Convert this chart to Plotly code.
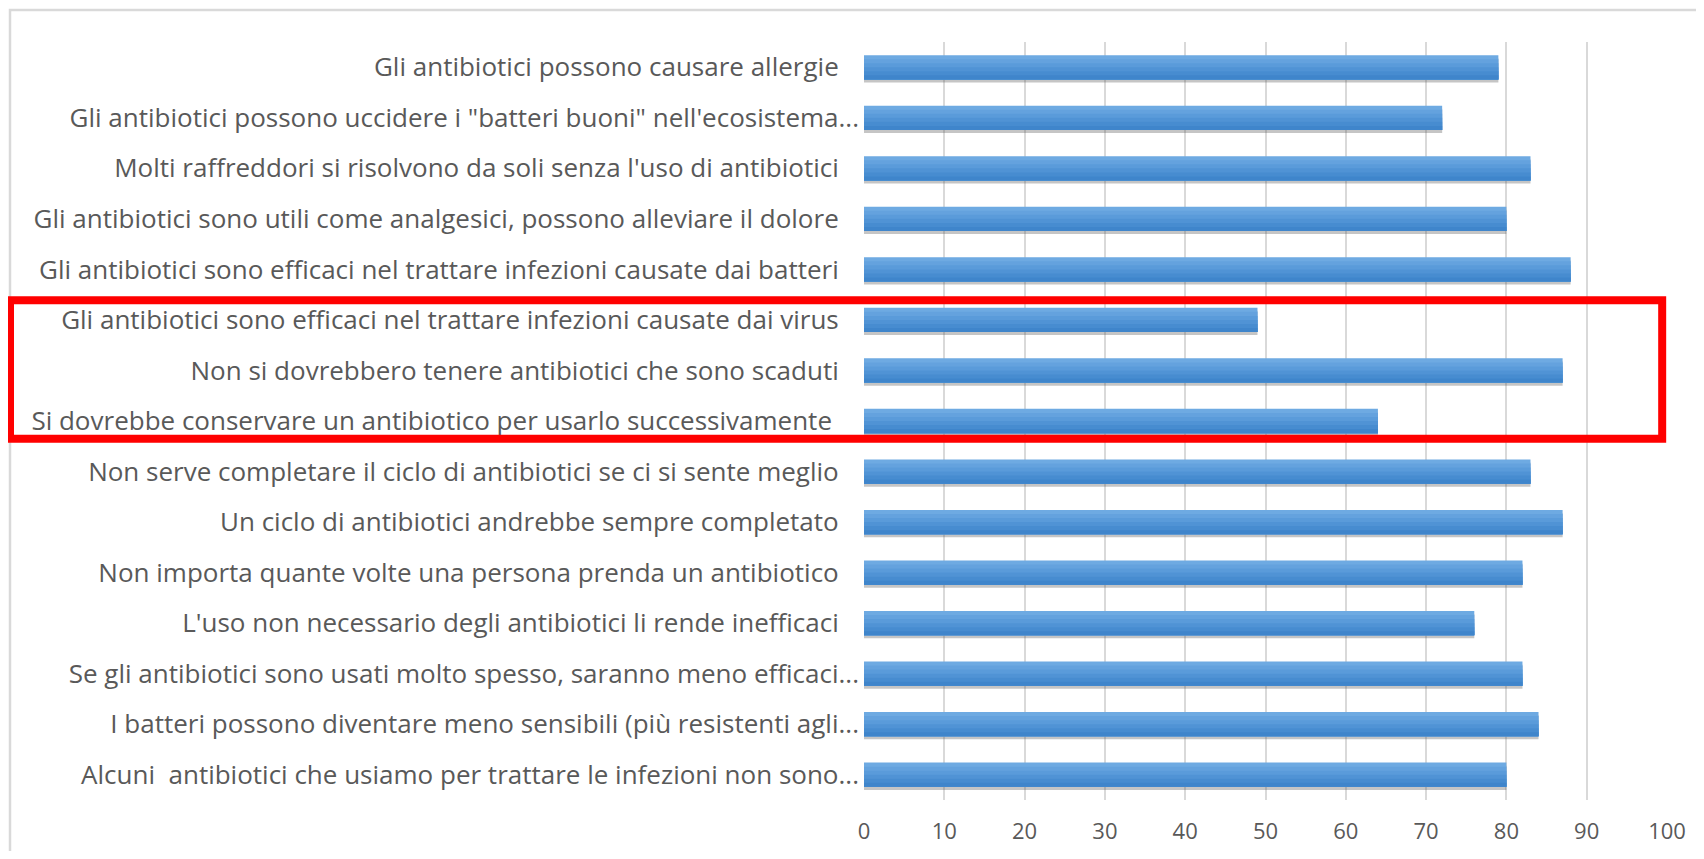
import plotly.graph_objects as go

# Categories listed top to bottom as in the chart
categories = [
    "Gli antibiotici possono causare allergie",
    "Gli antibiotici possono uccidere i \"batteri buoni\" nell'ecosistema...",
    "Molti raffreddori si risolvono da soli senza l'uso di antibiotici",
    "Gli antibiotici sono utili come analgesici, possono alleviare il dolore",
    "Gli antibiotici sono efficaci nel trattare infezioni causate dai batteri",
    "Gli antibiotici sono efficaci nel trattare infezioni causate dai virus",
    "Non si dovrebbero tenere antibiotici che sono scaduti",
    "Si dovrebbe conservare un antibiotico per usarlo successivamente ",
    "Non serve completare il ciclo di antibiotici se ci si sente meglio",
    "Un ciclo di antibiotici andrebbe sempre completato",
    "Non importa quante volte una persona prenda un antibiotico",
    "L'uso non necessario degli antibiotici li rende inefficaci",
    "Se gli antibiotici sono usati molto spesso, saranno meno efficaci...",
    "I batteri possono diventare meno sensibili (più resistenti agli...",
    "Alcuni  antibiotici che usiamo per trattare le infezioni non sono...",
]
values = [79, 72, 83, 80, 88, 49, 87, 64, 83, 87, 82, 76, 82, 84, 80]
x_ticks = [0, 10, 20, 30, 40, 50, 60, 70, 80, 90, 100]

FONT = "Open Sans, Liberation Sans, sans-serif"
GRAY_TEXT = "#595959"
GRID = "#d9d9d9"

def tick_text(lbl):
    lbl2 = lbl.replace("  ", " \u00a0")
    if lbl2.rstrip().endswith("..."):
        return lbl2
    extra = 1 if lbl2.endswith(" ") else 0
    return lbl2.rstrip() + "\u00a0" * (3 + extra)

ticktexts = [tick_text(c) for c in categories]

BAR_W = 0.48
fig = go.Figure()

# soft drop shadow under each bar
fig.add_trace(go.Bar(
    y=categories, x=values, orientation="h",
    width=BAR_W, offset=-BAR_W / 2 + 0.06,
    marker=dict(color="rgba(90,90,90,0.35)", line=dict(width=0)),
    hoverinfo="skip",
))

# vertical gradient of the bars, light on top to darker at bottom
band_colors = ["#6eaae2", "#64a2de", "#5a9bda", "#5093d5", "#478cd0", "#3f85cb"]
nb = len(band_colors)
bw = BAR_W / nb
for i, col in enumerate(band_colors):
    fig.add_trace(go.Bar(
        y=categories, x=values, orientation="h",
        width=BAR_W - i * bw, offset=-BAR_W / 2 + i * bw,
        marker=dict(color=col, line=dict(width=0)),
        hoverinfo="x+y" if i == 0 else "skip",
    ))

W, H = 1688, 843
L, R, T, B = 856, 29, 34, 51
pw = W - L - R
ph = H - T - B

fig.update_layout(
    width=W, height=H,
    margin=dict(l=L, r=R, t=T, b=B, pad=0),
    paper_bgcolor="white",
    plot_bgcolor="white",
    showlegend=False,
    barmode="overlay",
    font=dict(family=FONT, size=22, color=GRAY_TEXT),
    xaxis=dict(
        range=[0, 100],
        tickvals=x_ticks,
        ticktext=[str(v) for v in x_ticks],
        showgrid=True,
        gridcolor=GRID,
        gridwidth=2,
        zeroline=False,
        showline=False,
        ticks="",
        ticklabelstandoff=16,
        tickfont=dict(family=FONT, size=22, color=GRAY_TEXT),
        automargin=False,
        fixedrange=True,
    ),
    yaxis=dict(
        categoryorder="array",
        categoryarray=categories,
        tickvals=categories,
        ticktext=ticktexts,
        autorange="reversed",
        showgrid=False,
        zeroline=False,
        showline=False,
        ticks="",
        ticklabelstandoff=4,
        tickfont=dict(family=FONT, size=26, color=GRAY_TEXT),
        automargin=False,
        fixedrange=True,
    ),
)

# outer chart border (light gray, top and left visible)
bx0 = (2 - L) / pw
by1 = 1 + (T - 2) / ph
fig.add_shape(type="rect", xref="paper", yref="paper",
              x0=bx0, x1=1 + (R + 50) / pw, y0=-(B + 50) / ph, y1=by1,
              line=dict(color="#d9d9d9", width=2.5), fillcolor="rgba(0,0,0,0)",
              layer="below")

# red highlight box around three categories
fig.add_shape(type="rect", xref="paper", yref="y",
              x0=(2 - L) / pw, x1=0.994,
              y0=4.61, y1=7.35,
              line=dict(color="#ff0000", width=8), fillcolor="rgba(0,0,0,0)",
              layer="above")

fig.write_html("out.html")
